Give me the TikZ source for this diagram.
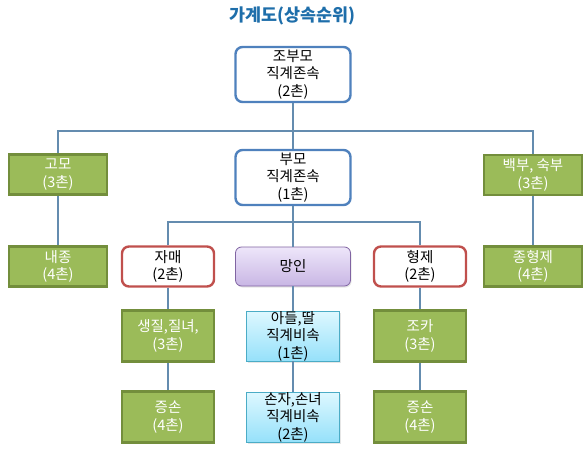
\documentclass[tikz,border=0pt]{standalone}
\usepackage{fontspec}
\setmainfont{Noto Sans CJK KR}
\usepackage{tikz}
\usetikzlibrary{positioning,shadows}

\definecolor{elderline}{RGB}{79,129,189}
\definecolor{kinfill}{RGB}{155,187,89}
\definecolor{kinline}{RGB}{115,142,60}
\definecolor{sibline}{RGB}{192,80,77}
\definecolor{selftop}{RGB}{238,230,250}
\definecolor{selfbot}{RGB}{200,182,228}
\definecolor{selfline}{RGB}{128,100,162}
\definecolor{desctop}{RGB}{222,248,255}
\definecolor{descbot}{RGB}{150,225,250}
\definecolor{descline}{RGB}{75,172,198}
\definecolor{linkline}{RGB}{100,140,175}
\definecolor{titleblue}{RGB}{30,110,170}

\begin{document}
\begin{tikzpicture}[x=1bp,y=-1bp,
    box/.style = {align=center, inner sep=0pt, font=\fontsize{14.5bp}{17.5bp}\selectfont},
    elder/.style = {box, draw=elderline, line width=2.4bp, rounded corners=7bp, fill=white, minimum width=115bp, minimum height=55bp},
    kin/.style = {box, draw=kinline, line width=2.4bp, fill=kinfill, text=white, minimum width=98bp, minimum height=40bp},
    sib/.style = {box, draw=sibline, line width=2.4bp, rounded corners=7bp, fill=white, minimum width=92bp, minimum height=40bp},
    self/.style = {box, draw=selfline, line width=0.8bp, rounded corners=6bp, top color=selftop, bottom color=selfbot, minimum width=115bp, minimum height=39bp, drop shadow={opacity=0.2, shadow xshift=1bp, shadow yshift=-1.5bp}},
    desc/.style = {box, draw=descline, line width=0.8bp, top color=desctop, bottom color=descbot, minimum width=93bp, minimum height=50bp, drop shadow={opacity=0.2, shadow xshift=1bp, shadow yshift=-1.5bp}},
    link/.style = {draw=linkline, line width=1.1bp}]
        \useasboundingbox (0,0) rectangle (588,461);
        \node[font=\fontsize{17.4bp}{18bp}\selectfont\bfseries, text=titleblue] (title) at (292,16) {가계도(상속순위)};
        \node[elder] (jbm) at (293,74.5) {조부모\\직계존속\\(2촌)};
        \node[elder] (bm) [below of=jbm, node distance=103bp] {부모\\직계존속\\(1촌)};
        \node[kin] (gm) at (58,174.5) {고모\\(3촌)};
        \node[kin] (bb) at (533,175) {백부, 숙부\\(3촌)};
        \node[kin] (nj) [below of=gm, node distance=92bp] {내종\\(4촌)};
        \node[kin] (jhj) [below of=bb, node distance=91.5bp] {종형제\\(4촌)};
        \node[self] (mi) [below of=bm, node distance=89bp] {망인};
        \node[sib] (jm) [left of=mi, node distance=125bp] {자매\\(2촌)};
        \node[sib] (hj) [right of=mi, node distance=127bp] {형제\\(2촌)};
        \node[kin, minimum width=92bp, minimum height=51bp] (sj) [below of=jm, node distance=69.5bp] {생질,질녀,\\(3촌)};
        \node[kin, minimum width=92bp, minimum height=51bp] (js1) [below of=sj, node distance=81bp] {증손\\(4촌)};
        \node[desc] (ad) [below of=mi, node distance=69.5bp] {아들,딸\\직계비속\\(1촌)};
        \node[desc] (sz) [below of=ad, node distance=81bp] {손자,손녀\\직계비속\\(2촌)};
        \node[kin, minimum width=92bp, minimum height=51bp] (jk) [below of=hj, node distance=69.5bp] {조카\\(3촌)};
        \node[kin, minimum width=92bp, minimum height=51bp] (js2) [below of=jk, node distance=81bp] {증손\\(4촌)};
        \coordinate (upbus) at (293,131);
        \coordinate (lowbus) at (293,222);
        \draw[link] (jbm) -- (bm);
        \draw[link] (gm.north) |- (upbus) -| (bb.north);
        \draw[link] (bm) -- (mi);
        \draw[link] (jm.north) |- (lowbus) -| (hj.north);
        \draw[link] (gm) -- (nj);
        \draw[link] (bb) -- (jhj);
        \draw[link] (jm) -- (sj);
        \draw[link] (sj) -- (js1);
        \draw[link] (mi) -- (ad);
        \draw[link] (ad) -- (sz);
        \draw[link] (hj) -- (jk);
        \draw[link] (jk) -- (js2);
\end{tikzpicture}
\end{document}
